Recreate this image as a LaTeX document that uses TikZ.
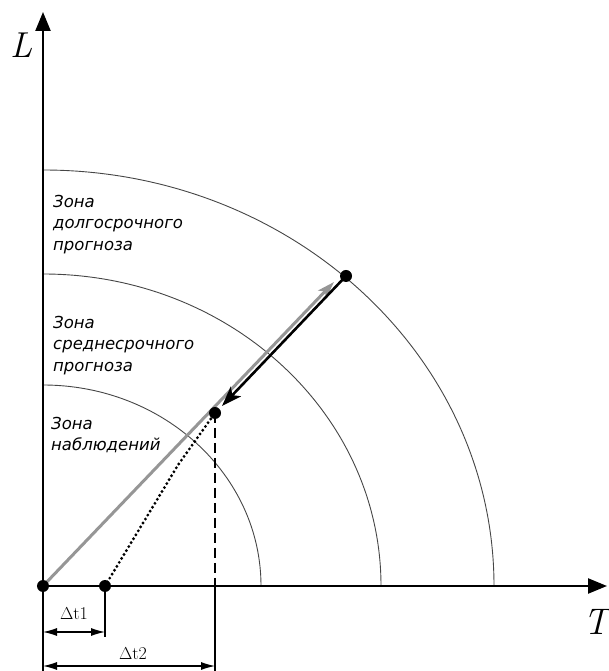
\documentclass[tikz,border=0pt]{standalone}
\usepackage{fontspec}
\usepackage{tikz}
\usetikzlibrary{arrows.meta,calc}
\newfontfamily\zonefont{DejaVu Sans}
\definecolor{LineGray}{RGB}{150,150,150}
\definecolor{ArcGray}{RGB}{70,70,70}

\begin{document}
\begin{tikzpicture}[x=1pt, y=1pt, every node/.style={inner sep=0pt},
  pnt/.style={circle, fill=black, minimum size=12pt},
  zonetext/.style={anchor=north west, align=left, font=\zonefont\itshape\fontsize{16.5}{21.5}\selectfont},
  axis/.style={line width=2.4pt, -{Triangle[length=19pt,width=15pt]}},
  zonearc/.style={line width=0.9pt, ArcGray},
  dim/.style={line width=1.1pt},
  dimarrow/.style={dim, {Latex[length=14pt,width=8pt]}-{Latex[length=14pt,width=8pt]}}]
\useasboundingbox (-43,-85) rectangle (566,586);

% key points
\coordinate (O) at (0,0);
\coordinate (Ltip) at (0,574);
\coordinate (Ttip) at (564,0);
\coordinate (A) at (303,310);
\coordinate (B) at (172,173);
\coordinate (C) at (62,0);
\coordinate (D) at (135,121);
\coordinate (G) at (291,304);
\coordinate (K) at (179,180);
\coordinate (Bx) at (172,0);

% zones
\draw[zonearc] (0,416) arc[start angle=90, end angle=0, x radius=451, y radius=416];
\draw[zonearc] (0,312) arc[start angle=90, end angle=0, x radius=338, y radius=312];
\draw[zonearc] (0,201) arc[start angle=90, end angle=0, x radius=218, y radius=201];

\draw[axis] (O) -- (Ltip);
\draw[axis] (O) -- (Ttip);

\draw[line width=3pt, LineGray, -{Stealth[length=17pt,width=11pt,inset=4pt]}] (O) -- (G);
\draw[line width=2.6pt, -{Stealth[length=20pt,width=14pt,inset=5pt]}] (A) -- (K);
\draw[line width=3.2pt, line cap=round, dash pattern=on 0pt off 4.6pt] (C) -- (D) -- (B);
\draw[line width=2.6pt, dash pattern=on 10pt off 5pt] (B) -- (Bx);

% dimensions
\coordinate (d0) at (0,-85);
\coordinate (d1) at (62,-51);
\coordinate (d2) at (172,-85);
\draw[dim] (O) -- (d0);
\draw[dim] (C) -- (d1);
\draw[dim] (Bx) -- (d2);
\draw[dimarrow] (0,-46) coordinate (t1a) -- (62,-46) coordinate (t1b);
\draw[dimarrow] (0,-80) coordinate (t2a) -- (172,-80) coordinate (t2b);
\node[font=\fontsize{18}{20}\selectfont] (lbl1) at (31,-28) {$\Delta$t\oldstylenums{1}};
\node[font=\fontsize{18}{20}\selectfont] (lbl2) at (90,-68) {$\Delta$t\oldstylenums{2}};

\node[pnt] (dotO) at (O) {};
\node[pnt] (dotA) at (A) {};
\node[pnt] (dotB) at (B) {};
\node[pnt] (dotC) at (C) {};

\node[zonetext] (zlong) at (10,391) {Зона\\долгосрочного\\прогноза};
\node[zonetext] (zmid) at (10,270) {Зона\\среднесрочного\\прогноза};
\node[zonetext] (zobs) at (8,169) {Зона\\наблюдений};

\node[font=\fontsize{36}{36}\selectfont\itshape] (lblL) at (-21,541) {L};
\node[font=\fontsize{37}{37}\selectfont\itshape] (lblT) at (553,-36) {T};
\end{tikzpicture}
\end{document}
